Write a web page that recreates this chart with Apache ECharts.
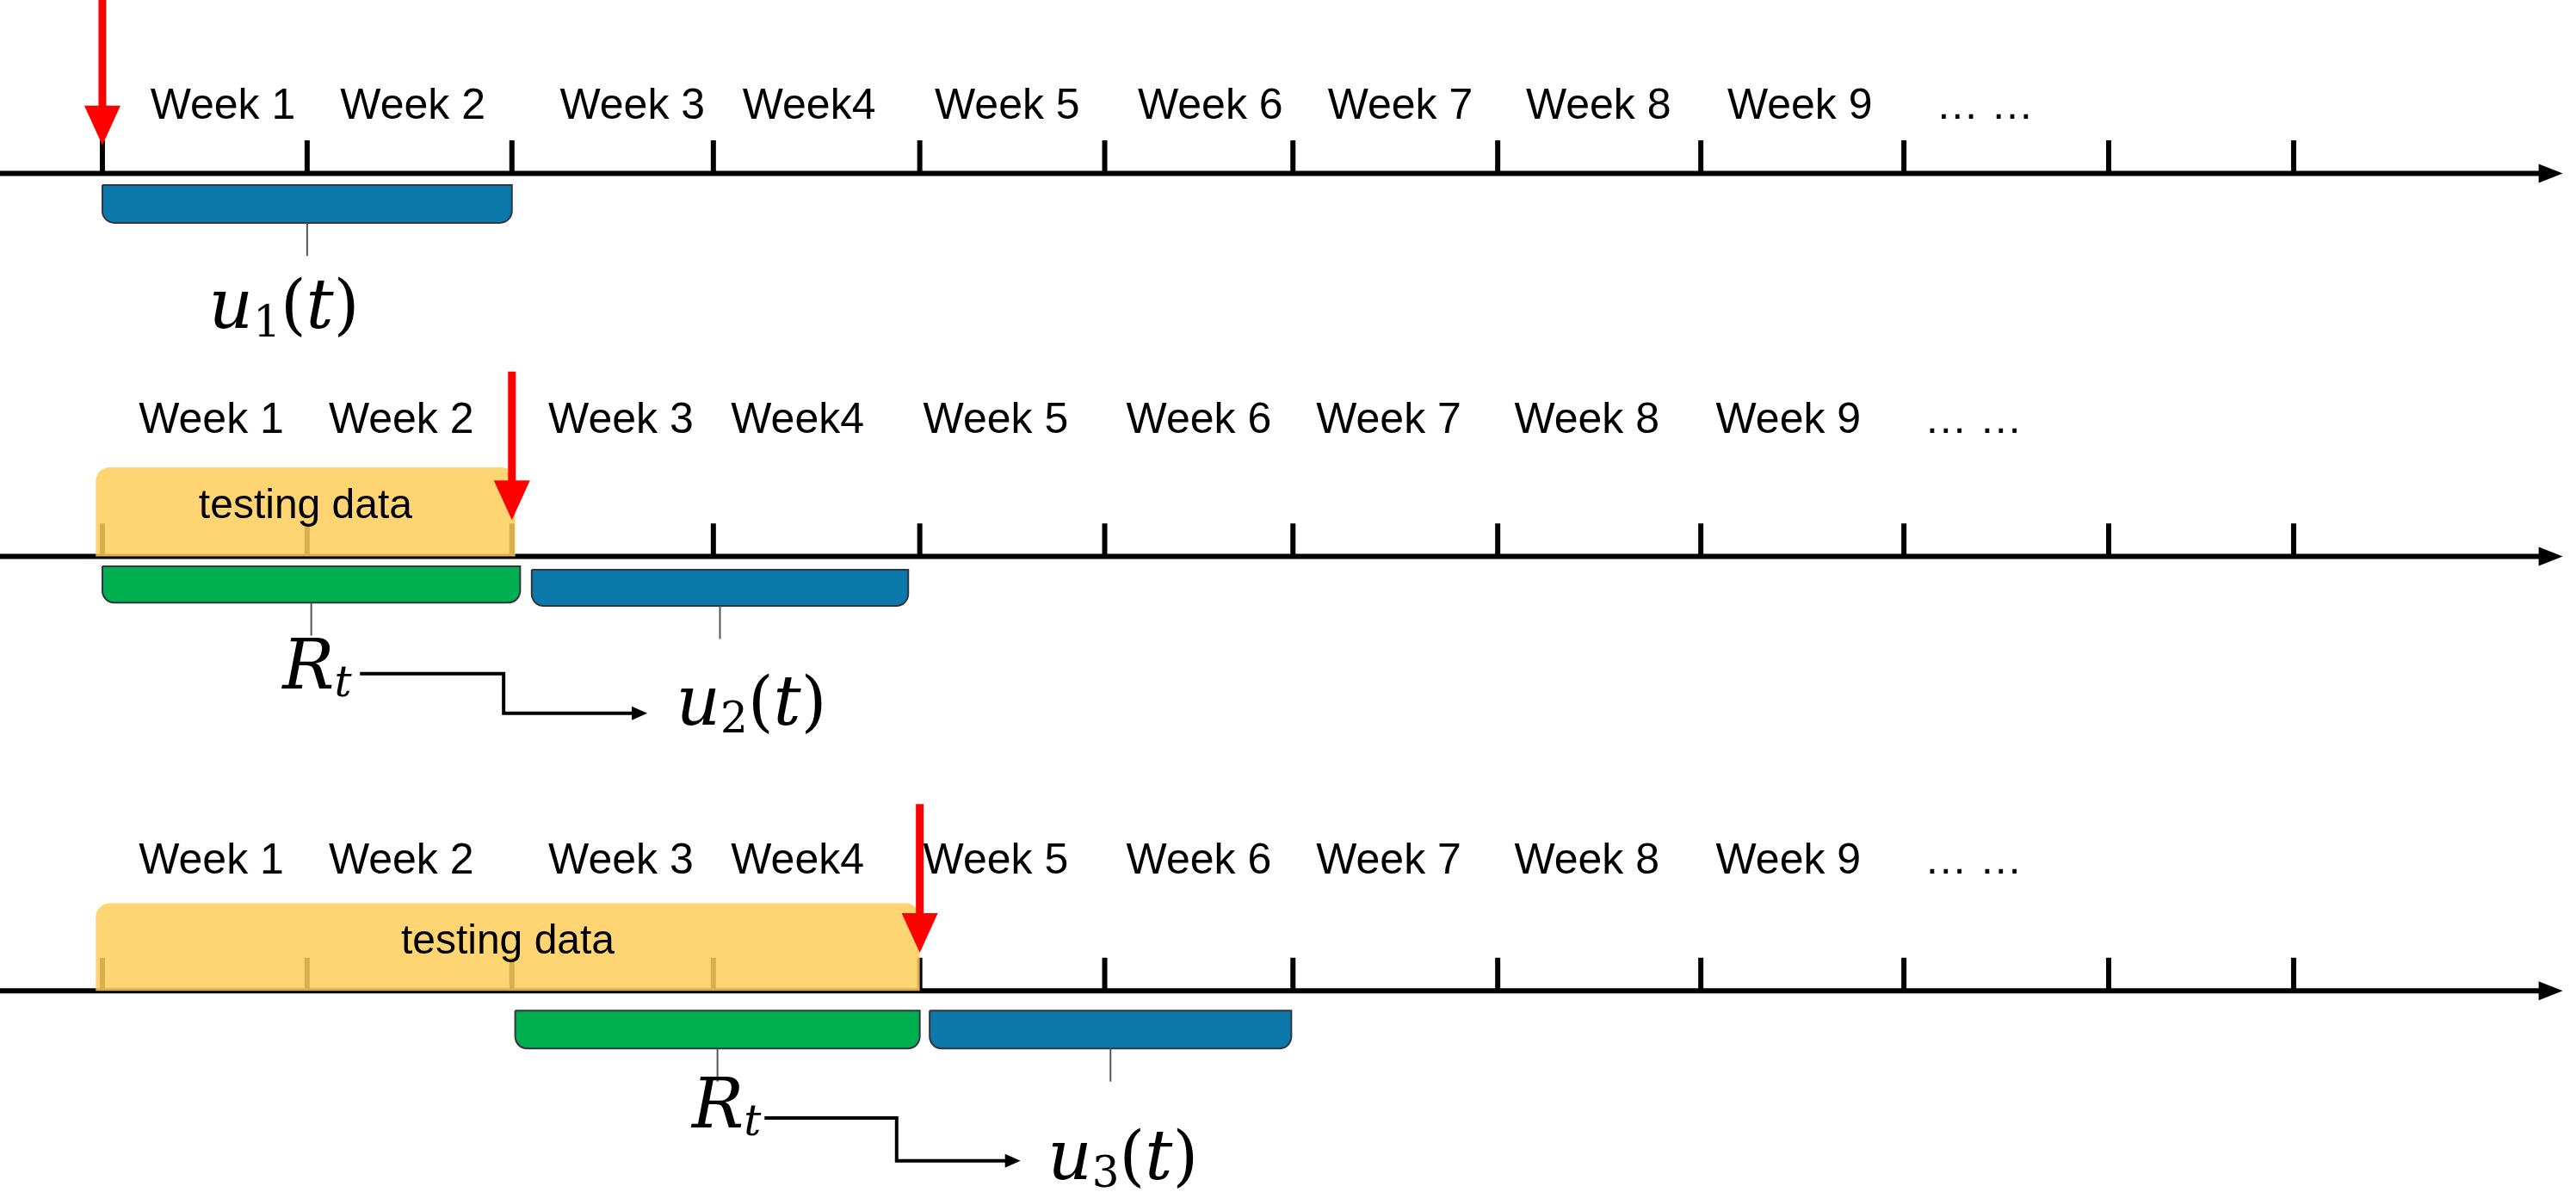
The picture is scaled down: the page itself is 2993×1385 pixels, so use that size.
<!DOCTYPE html><html><head><meta charset="utf-8">
<script src="https://cdn.jsdelivr.net/npm/echarts@6/dist/echarts.min.js"></script>
<style>html,body{margin:0;padding:0;background:#fff}#c{width:2993px;height:1385px}</style></head><body><div id="c"></div>
<script>
const tickX=[62,186,310,432,557,669,783,907,1030,1153,1277,1389];
const weekLabels=['Week 1','Week 2','Week 3','Week4','Week 5','Week 6','Week 7','Week 8','Week 9','… …'];
const weekLabelX=[135,250,383,490,610,733,848,968,1090,1202];
const rowAxisY=[105,337,600];
const rowLabelY=[65,255,522];
const rowLabelShift=[0,-7,-7];
const redArrows=[[62,0,88],[310,225,315],[557,487,577]];
const yellowBoxes=[[58,312,283,337],[58,557,547,600]];
const braces=[[62,310,112,135,'#0a78a8'],[62,315,343,365,'#00b050'],[322,550,345,367,'#0a78a8'],[312,557,612,635,'#00b050'],[563,782,612,635,'#0a78a8']];
const funcLabels=[[172,188,'u','1'],[455,428,'u','2'],[680,703,'u','3']];
const rLabels=[[192,406],[440,672]];
const connectors=[[[218,408],[305,408],[305,432],[392,432]],[[463,677],[543,677],[543,703],[618,703]]];

const K=2993/1560;
const chart=echarts.init(document.getElementById('c'),null,{renderer:'canvas'});
function custom(data,render,z){return {type:'custom',coordinateSystem:'cartesian2d',data:data.map((d,i)=>[i]),renderItem:(p,api)=>render(data[p.dataIndex],api),z:z||2,silent:true};}
const P=(api,x,y)=>api.coord([x,y]);
const series=[];
series.push(custom(yellowBoxes,(b,api)=>{const a=P(api,b[0],b[2]),c=P(api,b[1],b[3]);
 return {type:'group',children:[{type:'rect',shape:{x:a[0],y:a[1],width:c[0]-a[0],height:c[1]-a[1],r:[16,16,0,0]},style:{fill:'rgba(255,205,90,0.85)'}},
 {type:'text',style:{text:'testing data',x:(a[0]+c[0])/2,y:(a[1]+c[1])/2-6,align:'center',verticalAlign:'middle',font:'48px "Liberation Sans"',fill:'#000'}}]};},4));
series.push(custom(rowAxisY,(y,api)=>{const a=P(api,0,y),b=P(api,1552,y);
 const ch=[{type:'line',shape:{x1:a[0],y1:a[1],x2:b[0]-20,y2:b[1]},style:{stroke:'#000',lineWidth:6}},
 {type:'polygon',shape:{points:[[b[0],b[1]],[b[0]-28,b[1]-11],[b[0]-28,b[1]+11]]},style:{fill:'#000'}}];
 tickX.forEach(x=>{const t=P(api,x,y-20);ch.push({type:'line',shape:{x1:t[0],y1:t[1],x2:t[0],y2:a[1]},style:{stroke:'#000',lineWidth:6}});});
 return {type:'group',children:ch};},3));
const wl=[];rowLabelY.forEach((y,r)=>weekLabels.forEach((t,i)=>wl.push([weekLabelX[i]+rowLabelShift[r],y,t])));
series.push(custom(wl,(d,api)=>{const p=P(api,d[0],d[1]);return {type:'text',style:{text:d[2],x:p[0],y:p[1],align:'center',verticalAlign:'middle',font:'50px "Liberation Sans"',fill:'#000'}};}));
series.push(custom(braces,(b,api)=>{const a=P(api,b[0],b[2]),c=P(api,b[1],b[3]);const m=P(api,(b[0]+b[1])/2,b[3]+20);
 return {type:'group',children:[{type:'rect',shape:{x:a[0],y:a[1],width:c[0]-a[0],height:c[1]-a[1],r:[0,0,14,14]},style:{fill:b[4],stroke:'#334',lineWidth:2}},
 {type:'line',shape:{x1:m[0],y1:c[1],x2:m[0],y2:m[1]},style:{stroke:'#555',lineWidth:2}}]};}));
series.push(custom(redArrows,(d,api)=>{const a=P(api,d[0],d[1]),b=P(api,d[0],d[2]);
 return {type:'group',children:[{type:'line',shape:{x1:a[0],y1:a[1],x2:b[0],y2:b[1]-40},style:{stroke:'#ff0000',lineWidth:9}},
 {type:'polygon',shape:{points:[[b[0],b[1]],[b[0]-21,b[1]-46],[b[0]+21,b[1]-46]]},style:{fill:'#ff0000'}}]};},5));
series.push(custom(connectors,(pts,api)=>{const q=pts.map(p=>P(api,p[0],p[1]));const e=q[q.length-1];
 return {type:'group',children:[{type:'polyline',shape:{points:q.slice(0,-1).concat([[e[0]-14,e[1]]])},style:{stroke:'#000',lineWidth:4,fill:null}},
 {type:'polygon',shape:{points:[[e[0],e[1]],[e[0]-18,e[1]-8],[e[0]-18,e[1]+8]]},style:{fill:'#000'}}]};}));
const rich={i:{font:'italic 80px "DejaVu Serif"',fill:'#000'},n:{font:'76px "DejaVu Serif"',fill:'#000'},s:{font:'50px "DejaVu Serif"',fill:'#000',padding:[34,0,0,0]},si:{font:'italic 50px "DejaVu Serif"',fill:'#000',padding:[34,0,0,0]}};
series.push(custom(funcLabels,(d,api)=>{const p=P(api,d[0],d[1]);return {type:'text',style:{text:'{i|'+d[2]+'}{s|'+d[3]+'}{n|(}{i|t}{n|)}',rich:rich,x:p[0],y:p[1],align:'center',verticalAlign:'middle'}};}));
series.push(custom(rLabels,(d,api)=>{const p=P(api,d[0],d[1]);return {type:'text',style:{text:'{i|R}{si|t}',rich:rich,x:p[0],y:p[1],align:'center',verticalAlign:'middle'}};}));
chart.setOption({animation:false,grid:{left:0,right:0,top:0,bottom:0},
 xAxis:{type:'value',min:0,max:1560,show:false},yAxis:{type:'value',min:0,max:1385/K,inverse:true,show:false},series:series});
</script></body></html>
